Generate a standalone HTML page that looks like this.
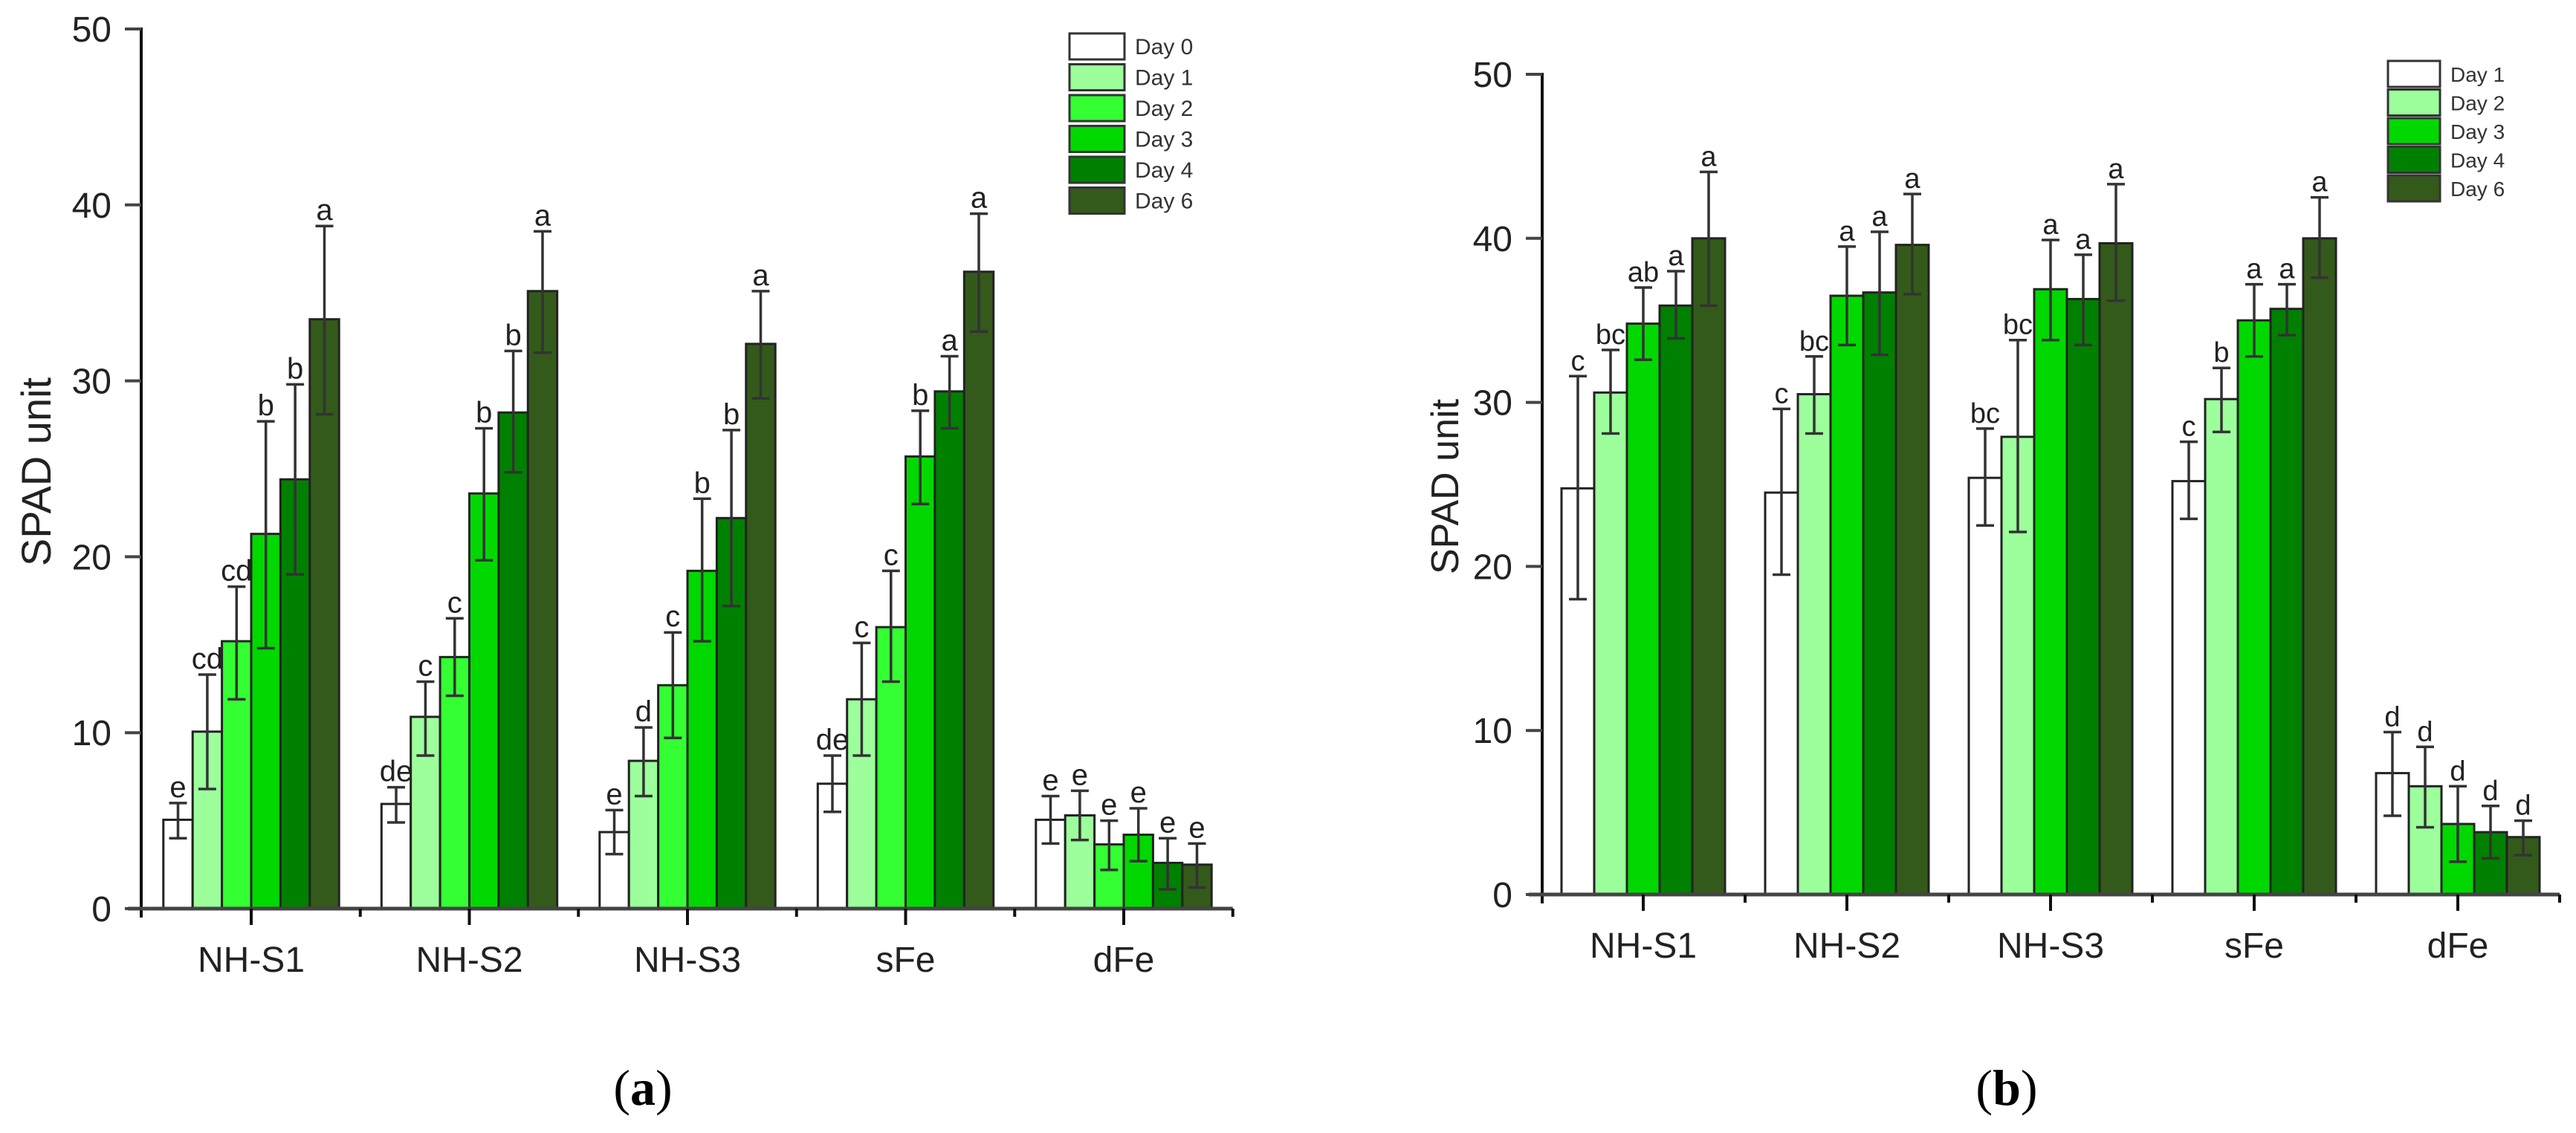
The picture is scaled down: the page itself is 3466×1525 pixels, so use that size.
<!DOCTYPE html>
<html><head><meta charset="utf-8"><style>
html,body{margin:0;padding:0;background:#fff;}
svg{display:block;font-family:"Liberation Sans",sans-serif;}
</style></head><body>
<svg id="fig" width="3466" height="1525" viewBox="0 0 3466 1525" xmlns="http://www.w3.org/2000/svg">
<text x="865" y="1487" font-family="Liberation Serif, serif" font-size="68" text-anchor="middle">(<tspan font-weight="bold">a</tspan>)</text>
<text x="2700" y="1487" font-family="Liberation Serif, serif" font-size="68" text-anchor="middle">(<tspan font-weight="bold">b</tspan>)</text>
</svg>
<script>
// ---- Chart A data ----
const catsA = ["NH-S1","NH-S2","NH-S3","sFe","dFe"];
const seriesA = ["Day 0","Day 1","Day 2","Day 3","Day 4","Day 6"];
const valuesA = [
  [5.05,5.95,4.35,7.1,5.05],
  [10.06,10.9,8.4,11.9,5.3],
  [15.2,14.3,12.7,16.0,3.65],
  [21.3,23.6,19.2,25.7,4.2],
  [24.4,28.2,22.2,29.4,2.6],
  [33.5,35.1,32.1,36.2,2.5]
];
const errHiA = [
  [6.0,6.9,5.6,8.7,6.4],
  [13.3,12.9,10.3,15.1,6.7],
  [18.3,16.5,15.7,19.2,5.0],
  [27.7,27.3,23.3,28.3,5.7],
  [29.8,31.7,27.2,31.4,4.0],
  [38.8,38.5,35.1,39.5,3.7]
];
const errLoA = [
  [4.0,4.9,3.1,5.5,3.7],
  [6.8,8.7,6.4,8.7,3.9],
  [11.9,12.1,9.7,12.9,2.2],
  [14.8,19.8,15.2,23.0,2.7],
  [19.0,24.8,17.2,27.3,1.1],
  [28.1,31.6,29.0,32.8,1.2]
];
const lettersA = [
  ["e","de","e","de","e"],
  ["cd","c","d","c","e"],
  ["cd","c","c","c","e"],
  ["b","b","b","b","e"],
  ["b","b","b","a","e"],
  ["a","a","a","a","e"]
];
const ticksA = [0,10,20,30,40,50];
// ---- Chart B data ----
const catsB = ["NH-S1","NH-S2","NH-S3","sFe","dFe"];
const seriesB = ["Day 1","Day 2","Day 3","Day 4","Day 6"];
const valuesB = [
  [24.76,24.5,25.4,25.2,7.4],
  [30.6,30.5,27.9,30.2,6.6],
  [34.8,36.5,36.9,35.0,4.3],
  [35.9,36.7,36.3,35.7,3.8],
  [40.0,39.6,39.7,40.0,3.5]
];
const errHiB = [
  [31.6,29.6,28.4,27.6,9.9],
  [33.2,32.8,33.8,32.1,9.0],
  [37.0,39.5,39.9,37.2,6.6],
  [38.0,40.4,39.0,37.2,5.4],
  [44.05,42.7,43.3,42.5,4.5]
];
const errLoB = [
  [18.0,19.5,22.5,22.9,4.8],
  [28.1,28.1,22.1,28.2,4.1],
  [32.6,33.5,33.8,32.8,2.0],
  [33.9,32.9,33.5,34.1,2.2],
  [35.9,36.6,36.2,37.6,2.4]
];
const lettersB = [
  ["c","c","bc","c","d"],
  ["bc","bc","bc","b","d"],
  ["ab","a","a","a","d"],
  ["a","a","a","a","d"],
  ["a","a","a","a","d"]
];
const ticksB = [0,10,20,30,40,50];

const NS="http://www.w3.org/2000/svg";
const svg=document.getElementById('fig');
function mk(tag,attrs,parent){const e=document.createElementNS(NS,tag);for(const k in attrs)e.setAttribute(k,attrs[k]);(parent||svg).appendChild(e);return e;}

function drawChart(cfg){
  const g=mk('g',{});
  
  
  const y=v=>cfg.y0-(v/50)*(cfg.y0-cfg.y50);
  const nS=cfg.series.length, nC=cfg.cats.length;
  const gc=i=>cfg.firstCenter+i*cfg.spacing;
  const xAxisEnd=gc(nC-1)+cfg.spacing/2;
  // bars
  for(let s=0;s<nS;s++){
    for(let c=0;c<nC;c++){
      const v=cfg.values[s][c];
      const x=gc(c)-nS*cfg.bw/2+s*cfg.bw;
      const r=mk('rect',{x:x,y:y(v),width:cfg.bw,height:y(0)-y(v),fill:cfg.colors[s],stroke:'#222','stroke-width':3},g);
      
      
    }
  }
  // error bars + letters
  for(let s=0;s<nS;s++){
    for(let c=0;c<nC;c++){
      const cx=gc(c)-nS*cfg.bw/2+(s+0.5)*cfg.bw;
      const hi=y(cfg.hi[s][c]), lo=y(cfg.lo[s][c]);
      const eb=mk('path',{d:`M${cx},${hi}V${lo}M${cx-12},${hi}H${cx+12}M${cx-12},${lo}H${cx+12}`,stroke:'#333','stroke-width':3.5,fill:'none'},g);
      
      
      const t=mk('text',{x:cx,y:hi-8,'font-size':cfg.letterSize,'text-anchor':'middle',fill:'#222'},g);
      t.textContent=cfg.letters[s][c];
      
      
    }
  }
  // axes
  const ax=mk('path',{d:`M${cfg.ax},${cfg.y50-2}V${cfg.y0+12}`,stroke:'#111','stroke-width':4,fill:'none'},g);
  
  
  const xa=mk('path',{d:`M${cfg.ax-18},${cfg.y0}H${xAxisEnd}`,stroke:'#444','stroke-width':5,fill:'none'},g);
  
  
  cfg.ticks.forEach(v=>{
    mk('path',{d:`M${cfg.ax-22},${y(v)}H${cfg.ax}`,stroke:'#444','stroke-width':4},g);
    const t=mk('text',{x:cfg.ax-40,y:y(v)+17,'font-size':48,'text-anchor':'end',fill:'#222'},g);
    t.textContent=v;
    
    
  });
  for(let c=0;c<nC;c++){
    mk('path',{d:`M${gc(c)},${cfg.y0}V${cfg.y0+22}`,stroke:'#111','stroke-width':4},g);
    mk('path',{d:`M${gc(c)+cfg.spacing/2},${cfg.y0}V${cfg.y0+11}`,stroke:'#111','stroke-width':4},g);
    const t=mk('text',{x:gc(c),y:cfg.y0+85,'font-size':cfg.catSize,'text-anchor':'middle',fill:'#222'},g);
    t.textContent=cfg.cats[c];
    
    
  }
  const yt=mk('text',{x:0,y:0,'font-size':cfg.titleSize,'text-anchor':'middle',fill:'#222',transform:`translate(${cfg.titleX},${cfg.titleY}) rotate(-90)`},g);
  yt.textContent='SPAD unit';
  
  
  // legend
  const lg=mk('g',{},g);
  
  
  cfg.series.forEach((s,i)=>{
    const ly=cfg.legY+i*cfg.legPitch;
    mk('rect',{x:cfg.legX,y:ly,width:cfg.legW,height:cfg.legH,fill:cfg.colors[i],stroke:'#333','stroke-width':3},lg);
    const t=mk('text',{x:cfg.legX+cfg.legW+14,y:ly+cfg.legH*0.8,'font-size':cfg.legFont,fill:'#333'},lg);
    t.textContent=s;
    
    
  });
}
drawChart({name:'chart-a',cats:catsA,series:seriesA,values:valuesA,hi:errHiA,lo:errLoA,letters:lettersA,ticks:ticksA,
  colors:['#ffffff','#9cff9c','#33ff33','#00d800','#008000','#335a1a'],
  y0:1223,y50:39,ax:190,firstCenter:338,spacing:293.5,bw:39.4,letterSize:40,catSize:48,
  titleSize:56,titleX:68,titleY:635,legX:1439,legY:45,legW:74,legH:35,legPitch:41.5,legFont:30});
drawChart({name:'chart-b',cats:catsB,series:seriesB,values:valuesB,hi:errHiB,lo:errLoB,letters:lettersB,ticks:ticksB,
  colors:['#ffffff','#9cff9c','#00d800','#008000','#335a1a'],
  y0:1204,y50:100,ax:2075,firstCenter:2211,spacing:274,bw:44,letterSize:38,catSize:48,
  titleSize:52,titleX:1962,titleY:655,legX:3213,legY:82,legW:70,legH:35,legPitch:38.5,legFont:28});
</script>
</body></html>
